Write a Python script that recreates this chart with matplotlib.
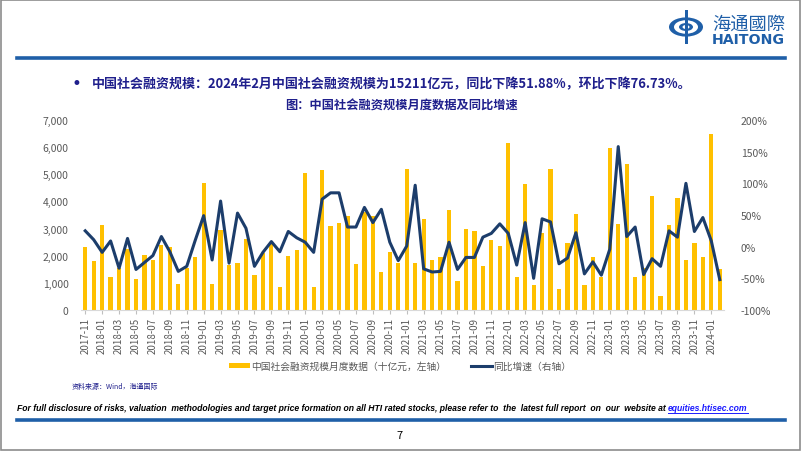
import matplotlib
matplotlib.use("Agg")
import matplotlib.pyplot as plt
from matplotlib.patches import Rectangle, Circle
from matplotlib.lines import Line2D

plt.rcParams['font.family'] = ['Noto Sans CJK SC', 'DejaVu Sans']

# monthly data 2017-11 .. 2024-02
months = []
y, m = 2017, 11
for _ in range(76):
    months.append(f"{y}-{m:02d}")
    m += 1
    if m > 12:
        m, y = 1, y + 1

# 社会融资规模 (十亿元)
tsf = [2310, 1820, 3140, 1200, 1550, 2230, 1140, 2030, 1850, 2400, 2310, 960, 1550,
       1940, 4670, 960, 2950, 1660, 1720, 2620, 1290, 2090, 2430, 860, 2000,
       2210, 5040, 860, 5160, 3100, 3210, 3460, 1700, 3600, 3460, 1390, 2130,
       1730, 5180, 1720, 3370, 1840, 1940, 3690, 1080, 2990, 2900, 1630, 2580,
       2370, 6150, 1230, 4640, 930, 2820, 5200, 770, 2460, 3540, 920, 1970,
       1230, 5980, 3160, 5380, 1230, 1560, 4200, 530, 3130, 4120, 1840, 2460,
       1940, 6500, 1521]

# 同比增速 (%)
yoy = [25, 11, -9, 9, -34, 13, -36, -25, -14, 16, -8, -39, -31,
       10, 49, -21, 72, -26, 53, 29, -31, -9, 8, -8, 24,
       14, 7, -9, 75, 85, 85, 31, 31, 62, 38, 59, 7,
       -22, 1, 97, -35, -40, -39, 7, -36, -17, -17, 15, 21,
       36, 21, -29, 38, -50, 44, 39, -27, -18, 22, -43, -24,
       -45, -4, 158, 16, 31, -44, -19, -31, 25, 15, 100, 24,
       46, 9, -52]

left_ticks = [0, 1000, 2000, 3000, 4000, 5000, 6000, 7000]
right_ticks = [-100, -50, 0, 50, 100, 150, 200]

W, H = 802, 452
fig = plt.figure(figsize=(W / 100, H / 100), dpi=100)


def px(x, y):
    return x / W, 1 - y / H


def fit_width(txt, width_px):
    # shrink/grow a text so it spans width_px pixels
    fig.canvas.draw()
    w = txt.get_window_extent().width
    txt.set_fontsize(txt.get_fontsize() * width_px / w)


navy = '#1f1f8c'
blue = '#1f5fa8'
gray = '#595959'

# outer page frame
fig.patches.append(Rectangle((0.001, 0.002), 0.997, 0.996, transform=fig.transFigure,
                             fill=False, edgecolor='#8c8c8c', linewidth=1.2))

# header rule and footer rule
for yy in (58.5, 420.5):
    fig.lines.append(Line2D([17 / W, 785 / W], [1 - yy / H] * 2, transform=fig.transFigure,
                            color=blue, linewidth=2.6))

# logo
cx, cy = px(686, 28)
fig.patches.append(Circle((cx, cy), 17 / W, transform=fig.transFigure, facecolor=blue,
                          edgecolor='none'))
fig.patches.append(Circle((cx, cy), 12 / W, transform=fig.transFigure, facecolor='white',
                          edgecolor='none'))
fig.patches.append(Circle((cx, cy), 7 / W, transform=fig.transFigure, facecolor=blue,
                          edgecolor='none'))
fig.patches.append(Circle((cx, cy), 3.5 / W, transform=fig.transFigure, facecolor='white',
                          edgecolor='none'))
fig.patches.append(Rectangle(((686 - 1.5) / W, 1 - 45 / H), 3 / W, 34 / H,
                             transform=fig.transFigure, facecolor=blue, edgecolor='none'))
logo_cn = fig.text(*px(712, 25), '海通國際', color=blue, fontsize=11, va='center', ha='left')
logo_en = fig.text(*px(712, 40.5), 'HAITONG', color=blue, fontsize=9, fontweight='bold',
                   va='center', ha='left', family=['DejaVu Sans'])
fit_width(logo_cn, 73)
fit_width(logo_en, 73)

# headline bullet
fig.text(*px(72, 84), '•', color=navy, fontsize=12, va='center', ha='left',
         family=['DejaVu Sans'])
head = fig.text(*px(92, 84),
                '中国社会融资规模：2024年2月中国社会融资规模为15211亿元，同比下降51.88%，环比下降76.73%。',
                color=navy, fontsize=9.3, fontweight='bold', va='center', ha='left')
fit_width(head, 598)
fig.text(*px(402, 106), '图：中国社会融资规模月度数据及同比增速', color=navy, fontsize=8.8,
         fontweight='bold', va='center', ha='center')

# chart
x0, x1, ytop, ybot = 81, 724, 121, 311
ax = fig.add_axes([x0 / W, 1 - ybot / H, (x1 - x0) / W, (ybot - ytop) / H])
xs = list(range(len(months)))
ax.bar(xs, tsf, width=0.5, color='#FFC000', zorder=2,
       label='中国社会融资规模月度数据（十亿元，左轴）')
ax.set_xlim(-0.5, len(months) - 0.5)
ax.set_ylim(0, 7000)
ax.set_yticks(left_ticks)
ax.set_yticklabels([f"{v:,}" for v in left_ticks])
ax.set_xticks(xs[::2])
ax.set_xticklabels(months[::2], rotation=90)
ax.tick_params(axis='y', length=0, labelsize=7.5, labelcolor=gray, pad=9)
ax.tick_params(axis='x', length=3, color='#bfbfbf', labelsize=7, labelcolor=gray, pad=2)
for s in ('left', 'right', 'top'):
    ax.spines[s].set_visible(False)
ax.spines['bottom'].set_color('#d9d9d9')

ax2 = ax.twinx()
ax2.plot(xs, yoy, color='#1c3d6b', linewidth=2.2, zorder=3, label='同比增速（右轴）')
ax2.set_ylim(-100, 200)
ax2.set_yticks(right_ticks)
ax2.set_yticklabels([f"{v}%" for v in right_ticks])
ax2.tick_params(axis='y', length=0, labelsize=7.5, labelcolor=gray, pad=12)
for s in ('left', 'right', 'top', 'bottom'):
    ax2.spines[s].set_visible(False)

# legend
h1, l1 = ax.get_legend_handles_labels()
h2, l2 = ax2.get_legend_handles_labels()
fig.legend(h1 + h2, l1 + l2, loc='center', bbox_to_anchor=px(400, 367), ncol=2,
           frameon=False, fontsize=7, labelcolor=gray, handlelength=2.2,
           handleheight=0.5, columnspacing=2.5, handletextpad=0.1)

# source
fig.text(*px(72, 387), '资料来源：Wind，海通国际', color=navy, fontsize=5, va='center', ha='left')

# disclaimer
disc = fig.text(*px(17, 409),
                'For full disclosure of risks, valuation  methodologies and target price formation on all HTI rated '
                'stocks, please refer to  the  latest full report  on  our  website at ',
                fontsize=7, fontweight='bold', style='italic', color='black', va='center',
                ha='left', family=['Liberation Sans', 'DejaVu Sans'])
fit_width(disc, 660)
fig.canvas.draw()
bb = disc.get_window_extent()
link = fig.text(bb.x1 / W, 1 - 409 / H, 'equities.htisec.com', fontsize=disc.get_fontsize(),
                fontweight='bold', style='italic', color='#1a1aff', va='center', ha='left',
                family=['Liberation Sans', 'DejaVu Sans'])
fig.canvas.draw()
lb = link.get_window_extent()
fig.lines.append(Line2D([lb.x0 / W, lb.x1 / W], [(lb.y0 - 0.5) / H] * 2, transform=fig.transFigure,
                        color='#1a1aff', linewidth=0.7))

fig.text(*px(400, 436), '7', fontsize=8, va='center', ha='center', color='black')

fig.savefig('out.png', dpi=100)
